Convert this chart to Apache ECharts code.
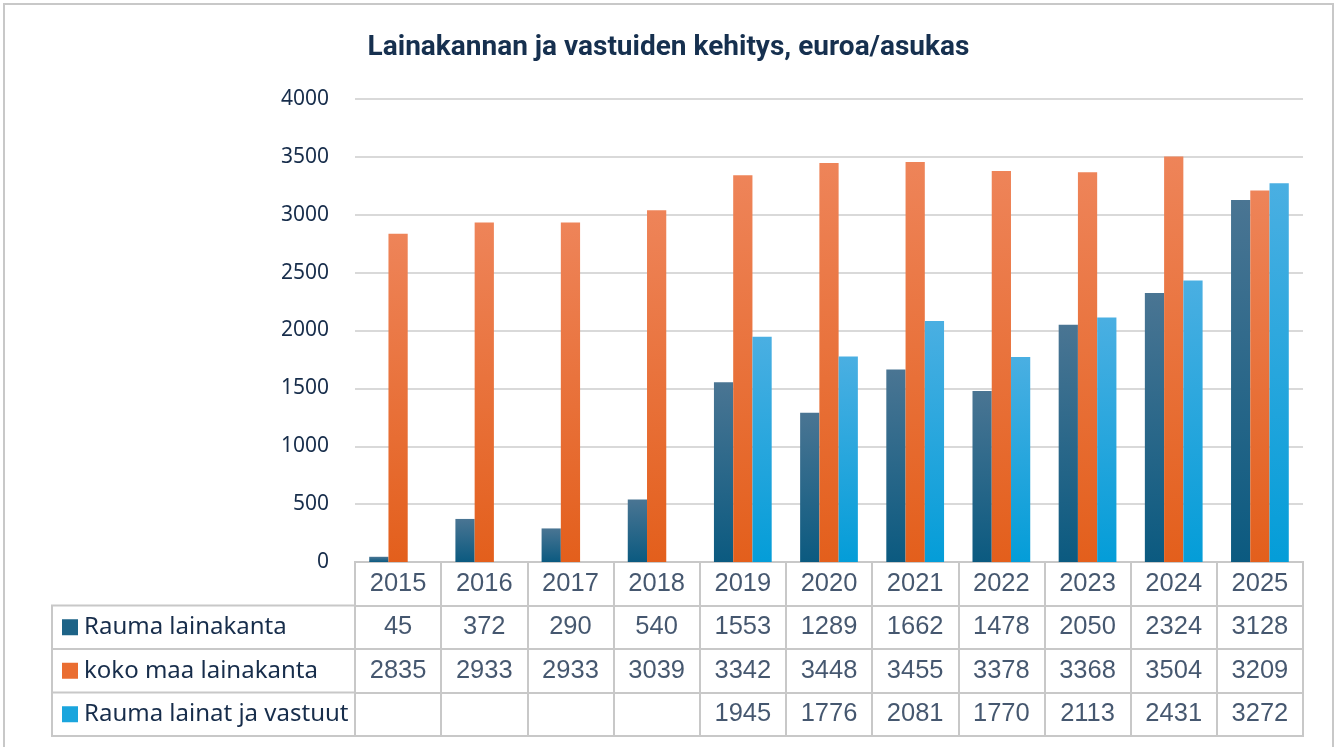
<!DOCTYPE html>
<html>
<head>
<meta charset="utf-8">
<script src="https://cdn.jsdelivr.net/npm/echarts@6/dist/echarts.min.js"></script>
<style>
  html, body { margin: 0; padding: 0; background: #fff; }
  #main { width: 1337px; height: 747px; }
</style>
</head>
<body>
<div id="main"></div>
<script>
  var years = ['2015', '2016', '2017', '2018', '2019', '2020', '2021', '2022', '2023', '2024', '2025'];
  var raumaLainakanta = [45, 372, 290, 540, 1553, 1289, 1662, 1478, 2050, 2324, 3128];
  var kokoMaaLainakanta = [2835, 2933, 2933, 3039, 3342, 3448, 3455, 3378, 3368, 3504, 3209];
  var raumaLainatVastuut = [null, null, null, null, 1945, 1776, 2081, 1770, 2113, 2431, 3272];
  var seriesNames = ['Rauma lainakanta', 'koko maa lainakanta', 'Rauma lainat ja vastuut'];
  var tableRows = ['vuosi'].concat(seriesNames);

  // layout
  var gridLeft = 355, gridRight = 34;
  var tableLeft = 52, tableTop = 562, tableBottom = 736;
  var rowH = (tableBottom - tableTop) / 4;
  var textColor = '#172d4b';
  var borderColor = '#c8c8c8';

  var topColors = ['#4a7593', '#ee8459', '#4aafe2'];
  var bottomColors = ['#0b5a80', '#e35f1c', '#049dd8'];
  var legendColors = ['#1d6387', '#ea6d31', '#1aa5dd'];

  function grad(i) {
    return new echarts.graphic.LinearGradient(0, 0, 0, 1, [
      {offset: 0, color: topColors[i]},
      {offset: 1, color: bottomColors[i]}
    ]);
  }

  var values = [raumaLainakanta, kokoMaaLainakanta, raumaLainatVastuut];

  // table cells: year row and one row per series
  var cells = [];
  years.forEach(function (y, i) {
    cells.push([i, 0, y]);
    values.forEach(function (vals, r) {
      if (vals[i] != null) cells.push([i, r + 1, String(vals[i])]);
    });
  });

  var rich = {};
  legendColors.forEach(function (c, i) {
    rich['sq' + i] = {width: 16, height: 16, backgroundColor: c};
  });
  rich.t = {fontFamily: 'Noto Sans', fontSize: 24, color: textColor, padding: [0, 0, 0, 6]};

  var myChart = echarts.init(document.getElementById('main'));
  myChart.setOption({
    animation: false,
    title: {
      text: 'Lainakannan ja vastuiden kehitys, euroa/asukas',
      left: 'center',
      top: 29,
      textStyle: {fontFamily: 'Roboto', fontWeight: 'bold', fontSize: 28, color: '#16304f'}
    },
    grid: [
      {left: gridLeft, right: gridRight, top: 99, bottom: 747 - tableTop},
      {left: gridLeft, right: gridRight, top: tableTop, bottom: 747 - tableBottom,
        show: true, borderColor: borderColor, borderWidth: 2}
    ],
    xAxis: [
      {
        type: 'category', gridIndex: 0, data: years,
        axisLine: {show: false}, axisTick: {show: false}, axisLabel: {show: false}
      },
      {
        type: 'category', gridIndex: 1, data: years,
        axisLine: {show: false}, axisTick: {show: false}, axisLabel: {show: false},
        splitLine: {show: true, interval: 0, lineStyle: {color: borderColor, width: 2}}
      }
    ],
    yAxis: [
      {
        type: 'value', gridIndex: 0, min: 0, max: 4000, interval: 500,
        axisLine: {show: false}, axisTick: {show: false},
        axisLabel: {fontFamily: 'Noto Sans', fontSize: 21, color: textColor, margin: 26,
          formatter: function (v) { return String(v); }},
        splitLine: {lineStyle: {color: '#d9d9d9', width: 2}}
      },
      {
        type: 'category', gridIndex: 1, data: tableRows, inverse: true,
        axisLine: {show: false}, axisTick: {show: false},
        splitLine: {show: true, interval: 0, lineStyle: {color: borderColor, width: 2}},
        axisLabel: {
          interval: 0,
          align: 'left',
          margin: gridLeft - 62,
          rich: rich,
          formatter: function (v, i) {
            if (i === 0) return '';
            return '{sq' + (i - 1) + '|}{t|' + v + '}';
          }
        }
      }
    ],
    series: [
      {name: seriesNames[0], type: 'bar', data: raumaLainakanta, barGap: '0%', barCategoryGap: '33%',
        itemStyle: {color: grad(0)}},
      {name: seriesNames[1], type: 'bar', data: kokoMaaLainakanta, barGap: '0%', barCategoryGap: '33%',
        itemStyle: {color: grad(1)}},
      {name: seriesNames[2], type: 'bar', data: raumaLainatVastuut, barGap: '0%', barCategoryGap: '33%',
        itemStyle: {color: grad(2)}},
      {
        type: 'scatter', xAxisIndex: 1, yAxisIndex: 1, data: cells,
        symbolSize: 1, itemStyle: {color: 'rgba(0,0,0,0)'}, silent: true,
        label: {
          show: true, position: 'inside',
          fontFamily: 'Liberation Sans', fontSize: 25.5, color: textColor,
          formatter: function (p) { return p.value[2]; }
        }
      }
    ],
    graphic: [
      {type: 'rect', shape: {x: 4, y: 4, width: 1329, height: 800}, silent: true,
        style: {fill: 'none', stroke: borderColor, lineWidth: 2}},
      {type: 'rect', shape: {x: tableLeft, y: tableTop + rowH, width: gridLeft - tableLeft, height: 3 * rowH},
        silent: true, style: {fill: 'none', stroke: borderColor, lineWidth: 2}},
      {type: 'line', shape: {x1: tableLeft, y1: tableTop + 2 * rowH, x2: gridLeft, y2: tableTop + 2 * rowH},
        silent: true, style: {stroke: borderColor, lineWidth: 2}},
      {type: 'line', shape: {x1: tableLeft, y1: tableTop + 3 * rowH, x2: gridLeft, y2: tableTop + 3 * rowH},
        silent: true, style: {stroke: borderColor, lineWidth: 2}}
    ]
  });
</script>
</body>
</html>
